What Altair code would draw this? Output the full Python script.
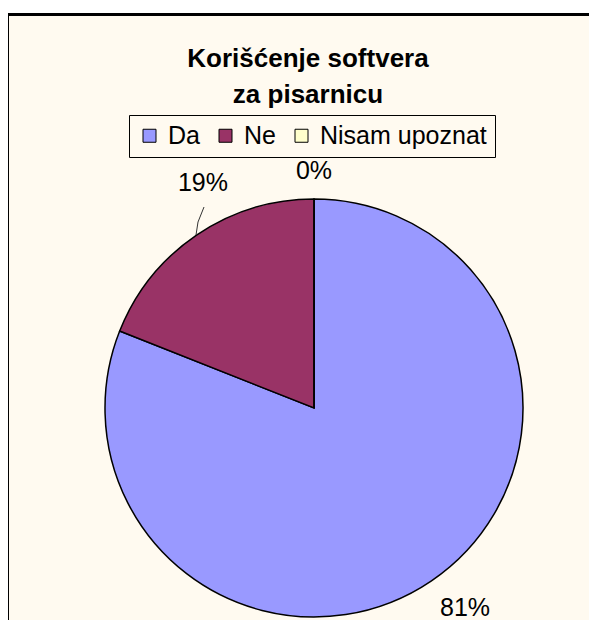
import altair as alt
import pandas as pd

categories = ["Da", "Ne", "Nisam upoznat"]
values = [81, 19, 0]
labels = ["81%", "19%", "0%"]
order = [0, 1, 2]
colors = ["#9999FF", "#993366", "#FFFFCC"]

CREAM = "#FFFAF0"
FONT = "Liberation Sans"
CX, CY = 306, 300

df = pd.DataFrame({"category": categories, "value": values, "label": labels, "ord": order})

frame = alt.Chart(alt.Data(values=[{}])).mark_rect(
    fill=CREAM, stroke="black", strokeWidth=3
).encode(x=alt.value(-0.5), x2=alt.value(600), y=alt.value(-93.5), y2=alt.value(700))

pie = alt.Chart(df).mark_arc(outerRadius=209, stroke="black", strokeWidth=1.5).encode(
    theta=alt.Theta("value:Q", stack=True),
    color=alt.Color(
        "category:N",
        scale=alt.Scale(domain=categories, range=colors),
        legend=alt.Legend(
            orient="none", legendX=121, legendY=7, direction="horizontal", title=None,
            symbolType="square", symbolSize=169, symbolStrokeColor="black",
            symbolStrokeWidth=1, symbolOpacity=1, labelFontSize=25, labelFont=FONT,
            labelColor="black", strokeColor="black", fillColor=CREAM, padding=8,
            columnPadding=13, labelOffset=6, labelLimit=400,
        ),
    ),
    order=alt.Order("ord:Q"),
    x=alt.value(CX), y=alt.value(CY),
)

base_text = alt.Chart(df).transform_window(
    cum="sum(value)", sort=[alt.SortField("ord")], frame=[None, 0]
).transform_calculate(mid="datum.cum - datum.value / 2")

offsets = {"Da": (250, 10.5, -6.8), "Ne": (250, 29.5, -18), "Nisam upoznat": (237, 0, 0)}
text_layers = []
for c in categories:
    r, dx, dy = offsets[c]
    text_layers.append(
        base_text.transform_filter(alt.datum.category == c).mark_text(
            radius=r, dx=dx, dy=dy, fontSize=25, font=FONT, color="black",
            align="center", baseline="middle",
        ).encode(
            theta=alt.Theta("mid:Q", scale=alt.Scale(domain=[0, 100])),
            text="label:N",
            x=alt.value(CX), y=alt.value(CY),
        )
    )

leader1 = alt.Chart(alt.Data(values=[{}])).mark_rule(color="#333333", strokeWidth=1).encode(
    x=alt.value(196), y=alt.value(99), x2=alt.value(190), y2=alt.value(114))
leader2 = alt.Chart(alt.Data(values=[{}])).mark_rule(color="#333333", strokeWidth=1).encode(
    x=alt.value(190), y=alt.value(114), x2=alt.value(188), y2=alt.value(127))

chart = alt.layer(frame, pie, *text_layers, leader1, leader2).properties(
    width=581, height=512,
    padding={"left": 0, "top": 100, "right": 0, "bottom": 0},
    autosize=alt.AutoSizeParams(type="none"),
    background="white",
    title=alt.TitleParams(
        text=["Korišćenje softvera", "za pisarnicu"], fontSize=26, font=FONT,
        fontWeight="bold", lineHeight=36, anchor="middle", frame="group",
        offset=-95, dx=9.5, color="black",
    ),
).configure_view(stroke=None)

chart.save("out.html", embed_options={"renderer": "svg", "actions": False})
